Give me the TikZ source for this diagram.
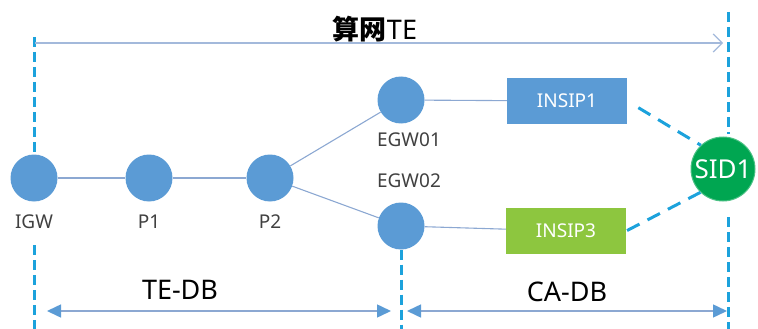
\documentclass[tikz,border=0pt]{standalone}
\usepackage{fontspec}
\setmainfont{Noto Sans}
\newfontfamily\cjk{Noto Sans CJK SC}
\usetikzlibrary{arrows.meta}
\definecolor{nodeblue}{RGB}{91,155,213}
\definecolor{linkblue}{RGB}{140,168,210}
\definecolor{bordercyan}{RGB}{28,162,220}
\definecolor{insipgreen}{RGB}{141,198,63}
\definecolor{sidgreen}{RGB}{0,166,81}

\begin{document}
\begin{tikzpicture}[x=1pt,y=-1pt,
	router/.style = {circle, fill=nodeblue, minimum size=47pt, inner sep=0pt},
	insip/.style = {minimum width=120pt, minimum height=46pt, inner sep=0pt, text=white, font=\fontsize{19}{19}\selectfont},
	tag/.style = {text=black!75, font=\fontsize{19}{19}\selectfont},
	link/.style = {linkblue, line width=1.1pt},
	boundary/.style = {bordercyan, line width=3pt, dash pattern=on 10pt off 5pt},
	session/.style = {bordercyan, line width=3pt, dash pattern=on 14pt off 9pt},
	span/.style = {linkblue, line width=1.5pt, {Triangle[length=14pt,width=13pt,fill=nodeblue,color=nodeblue]}-{Triangle[length=14pt,width=13pt,fill=nodeblue,color=nodeblue]}},
	title/.style = {font=\fontsize{27}{27}\selectfont}]
\useasboundingbox (0,0) rectangle (758,329);

\coordinate (ltop) at (34,37);
\coordinate (lmid) at (34,245);
\coordinate (lbot) at (34,329);
\coordinate (mbot) at (401,329);
\coordinate (rtop) at (728,12);
\coordinate (rmid) at (728,217);
\coordinate (rbot) at (728,329);
\coordinate (rcut) at (728,134);
\draw[boundary] (rtop) -- (rcut);
\draw[boundary] (rmid) -- (rbot);

\node[router] (IGW) at (34,178) {};
\node[router] (P1) at (149,178) {};
\node[router] (P2) at (270,178) {};
\node[router] (EGW01) at (401,100) {};
\node[router] (EGW02) at (401,226) {};
\node[insip, fill=nodeblue] (INSIP1) at (567,101) {INSIP1};
\node[insip, fill=insipgreen] (INSIP3) at (566,231) {INSIP3};
\node[circle, fill=sidgreen, draw=sidgreen!70!white, line width=1pt, minimum size=64pt, inner sep=0pt,
	text=white, font=\fontsize{26}{26}\selectfont] (SID1) at (723,169) {SID1};

\node[tag] (IGWlabel) at (34,222) {IGW};
\node[tag] (P1label) at (149,222) {P1};
\node[tag] (P2label) at (270,222) {P2};
\node[tag] (EGW01label) at (409,140) {EGW01};
\node[tag] (EGW02label) at (409,181) {EGW02};

\draw[link] (IGW) -- (P1);
\draw[link] (P1) -- (P2);
\draw[link] (P2) -- (EGW01);
\draw[link] (P2) -- (EGW02);
\draw[link] (EGW01) -- (INSIP1);
\draw[link] (EGW02) -- (INSIP3);
\draw[session, shorten <=13pt] (INSIP1.east) -- (SID1.133);
\draw[session, shorten <=1pt] (INSIP3.east) -- (SID1.226);

\draw[boundary] (ltop) -- (IGW);
\draw[boundary] (lmid) -- (lbot);
\draw[boundary] (EGW02) -- (mbot);

\coordinate (testart) at (35,43);
\coordinate (teend) at (723,43);
\draw[linkblue!80!white, line width=1.5pt, -{Straight Barb[length=9pt,width=18pt,line width=1.2pt]}] (testart) -- (teend);
\node[title] (tename) at (375,29) {{\cjk\bfseries 算网}TE};

\coordinate (tedbleft) at (47,311);
\coordinate (tedbright) at (391,311);
\coordinate (cadbleft) at (407,311);
\coordinate (cadbright) at (727,311);
\draw[span] (tedbleft) -- (tedbright);
\draw[span] (cadbleft) -- (cadbright);
\node[title] (tedb) at (180,290) {TE-DB};
\node[title] (cadb) at (567,292) {CA-DB};
\end{tikzpicture}
\end{document}
